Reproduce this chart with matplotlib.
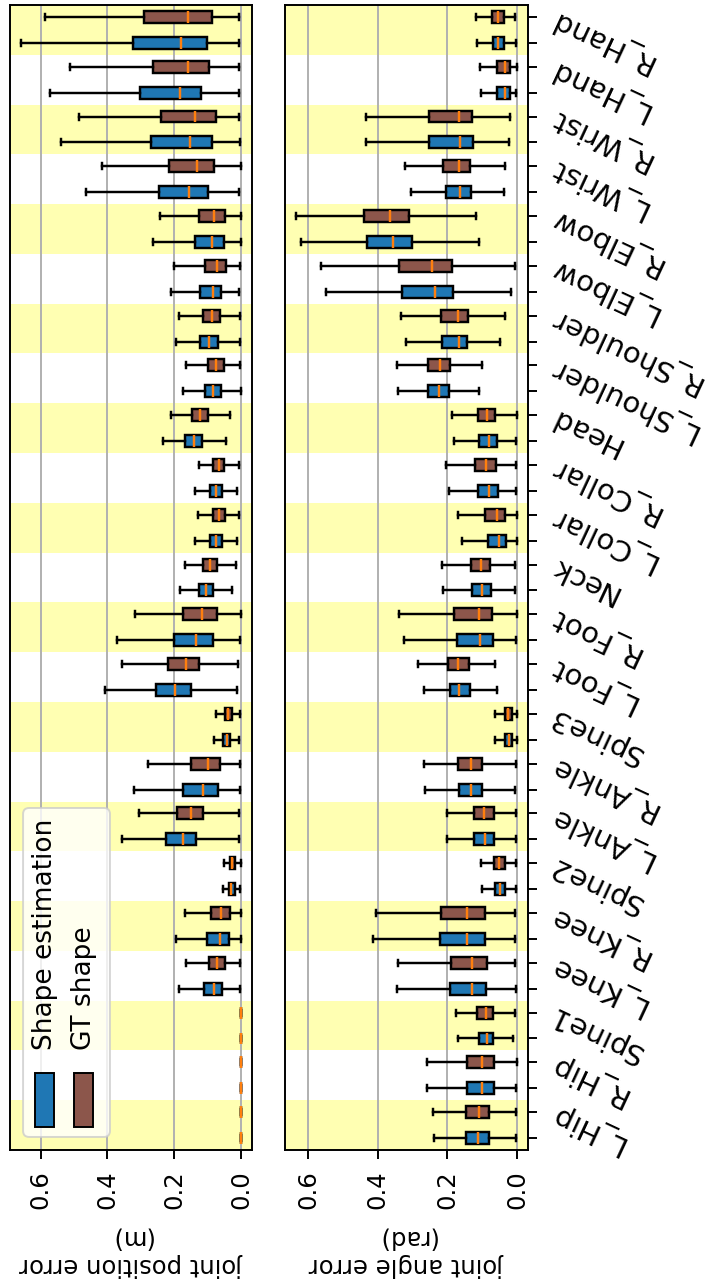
import numpy as np
import matplotlib
matplotlib.use("Agg")
import matplotlib.pyplot as plt
from matplotlib.patches import FancyBboxPatch, Rectangle

# joints, bottom to top
joints = ["L_Hip", "R_Hip", "Spine1", "L_Knee", "R_Knee", "Spine2", "L_Ankle",
          "R_Ankle", "Spine3", "L_Foot", "R_Foot", "Neck", "L_Collar", "R_Collar",
          "Head", "L_Shoulder", "R_Shoulder", "L_Elbow", "R_Elbow", "L_Wrist",
          "R_Wrist", "L_Hand", "R_Hand"]

# (whislo, q1, med, q3, whishi) per joint
pos_est = [(0, 0, 0, 0, 0), (0, 0, 0, 0, 0), (0, 0, 0, 0, 0),
           (0.002, 0.058, 0.082, 0.111, 0.185), (0.0, 0.037, 0.064, 0.102, 0.194),
           (0.002, 0.018, 0.029, 0.037, 0.054), (0.007, 0.134, 0.175, 0.224, 0.355),
           (0.002, 0.070, 0.113, 0.173, 0.322), (0.005, 0.032, 0.043, 0.054, 0.080),
           (0.012, 0.150, 0.198, 0.255, 0.408), (0.003, 0.085, 0.135, 0.201, 0.372),
           (0.026, 0.085, 0.104, 0.126, 0.182), (0.012, 0.058, 0.076, 0.094, 0.139),
           (0.013, 0.058, 0.075, 0.094, 0.138), (0.046, 0.117, 0.142, 0.167, 0.233),
           (0.0, 0.060, 0.083, 0.108, 0.173), (0.004, 0.070, 0.095, 0.123, 0.194),
           (0.005, 0.060, 0.085, 0.123, 0.210), (0.001, 0.052, 0.086, 0.139, 0.263),
           (0.007, 0.099, 0.155, 0.247, 0.463), (0.003, 0.088, 0.153, 0.269, 0.540),
           (0.005, 0.119, 0.182, 0.303, 0.572), (0.005, 0.102, 0.179, 0.325, 0.659)]

pos_gt = [(0, 0, 0, 0, 0), (0, 0, 0, 0, 0), (0, 0, 0, 0, 0),
          (0.002, 0.048, 0.071, 0.096, 0.164), (0.0, 0.034, 0.060, 0.089, 0.167),
          (0.0, 0.017, 0.026, 0.033, 0.051), (0.007, 0.114, 0.149, 0.193, 0.306),
          (0.004, 0.062, 0.098, 0.151, 0.278), (0.002, 0.028, 0.039, 0.049, 0.075),
          (0.010, 0.125, 0.166, 0.219, 0.355), (0.0, 0.073, 0.117, 0.173, 0.319),
          (0.016, 0.071, 0.093, 0.113, 0.167), (0.005, 0.049, 0.067, 0.085, 0.128),
          (0.007, 0.050, 0.067, 0.085, 0.126), (0.032, 0.098, 0.123, 0.146, 0.211),
          (0.002, 0.051, 0.074, 0.099, 0.164), (0.002, 0.063, 0.087, 0.115, 0.185),
          (0.003, 0.044, 0.072, 0.109, 0.201), (0.001, 0.047, 0.080, 0.127, 0.242),
          (0.001, 0.081, 0.133, 0.216, 0.416), (0.005, 0.074, 0.137, 0.239, 0.484),
          (0.005, 0.096, 0.158, 0.263, 0.512), (0.005, 0.088, 0.160, 0.290, 0.588)]

ang_est = [(0.004, 0.081, 0.111, 0.147, 0.239), (0.002, 0.066, 0.100, 0.144, 0.257),
           (0.010, 0.068, 0.087, 0.110, 0.168), (0.003, 0.088, 0.130, 0.192, 0.345),
           (0.005, 0.091, 0.143, 0.221, 0.413), (0.002, 0.035, 0.050, 0.064, 0.101),
           (0.003, 0.065, 0.093, 0.122, 0.201), (0.007, 0.100, 0.132, 0.167, 0.263),
           (0.0, 0.013, 0.024, 0.035, 0.062), (0.057, 0.135, 0.166, 0.193, 0.266),
           (0.003, 0.070, 0.106, 0.173, 0.324), (0.007, 0.074, 0.101, 0.130, 0.212),
           (0.0, 0.031, 0.051, 0.084, 0.159), (0.002, 0.054, 0.079, 0.113, 0.196),
           (0.002, 0.058, 0.081, 0.108, 0.180), (0.110, 0.195, 0.223, 0.256, 0.341),
           (0.048, 0.144, 0.167, 0.214, 0.319), (0.017, 0.184, 0.236, 0.331, 0.549),
           (0.109, 0.300, 0.355, 0.429, 0.620), (0.036, 0.132, 0.163, 0.204, 0.305),
           (0.023, 0.127, 0.163, 0.251, 0.432), (0.002, 0.019, 0.033, 0.056, 0.104),
           (0.002, 0.036, 0.053, 0.070, 0.114)]

ang_gt = [(0.004, 0.079, 0.109, 0.146, 0.240), (0.0, 0.067, 0.100, 0.144, 0.257),
          (0.005, 0.068, 0.090, 0.114, 0.176), (0.005, 0.085, 0.128, 0.189, 0.341),
          (0.005, 0.092, 0.143, 0.218, 0.405), (0.002, 0.035, 0.051, 0.065, 0.102),
          (0.003, 0.065, 0.094, 0.122, 0.202), (0.002, 0.100, 0.133, 0.168, 0.267),
          (0.0, 0.014, 0.025, 0.035, 0.062), (0.063, 0.139, 0.170, 0.199, 0.285),
          (0.0, 0.072, 0.109, 0.180, 0.339), (0.006, 0.076, 0.103, 0.133, 0.214),
          (0.0, 0.035, 0.057, 0.091, 0.169), (0.004, 0.061, 0.088, 0.121, 0.205),
          (0.0, 0.062, 0.086, 0.113, 0.187), (0.100, 0.191, 0.220, 0.255, 0.345),
          (0.033, 0.141, 0.168, 0.219, 0.333), (0.006, 0.186, 0.243, 0.338, 0.563),
          (0.117, 0.310, 0.364, 0.440, 0.634), (0.033, 0.135, 0.167, 0.211, 0.321),
          (0.019, 0.128, 0.166, 0.251, 0.432), (0.0, 0.020, 0.033, 0.056, 0.107),
          (0.005, 0.036, 0.053, 0.071, 0.117)]

series_names = ["Shape estimation", "GT shape"]
xtick_vals = [0.0, 0.2, 0.4, 0.6]

c_est = "#1f77b4"
c_gt = "#8c564b"
lw = 1.75


def to_stats(rows):
    return [dict(whislo=r[0], q1=r[1], med=r[2], q3=r[3], whishi=r[4], fliers=[])
            for r in rows]


W, H = 712, 1287
fig = plt.figure(figsize=(W / 100, H / 100), dpi=100)
ax_pos = fig.add_axes([10 / W, 137 / H, 242 / W, 1145 / H])
ax_ang = fig.add_axes([285 / W, 137 / H, 243 / W, 1145 / H])

n = len(joints)
idx = np.arange(n)
off = 0.26

panels = [(ax_pos, pos_est, pos_gt, "joint position error\n(m)"),
          (ax_ang, ang_est, ang_gt, "joint angle error\n(rad)")]

for ax, est, gt, label in panels:
    for i in range(0, n, 2):
        ax.axhspan(i - 0.5, i + 0.5, color="yellow", alpha=0.3, lw=0, zorder=0)
    for rows, where, col in [(est, idx - off, c_est), (gt, idx + off, c_gt)]:
        ax.bxp(to_stats(rows), positions=where, widths=0.24,
               orientation="horizontal", patch_artist=True, showfliers=False,
               manage_ticks=False,
               boxprops=dict(facecolor=col, edgecolor="black", linewidth=lw),
               medianprops=dict(color="#ff7f0e", linewidth=lw),
               whiskerprops=dict(color="black", linewidth=lw),
               capprops=dict(color="black", linewidth=lw))
    top = max(max(r[4] for r in est), max(r[4] for r in gt))
    ax.set_xlim(top * 1.05, -top * 0.05)
    ax.set_ylim(-0.5, n - 0.5)
    ax.set_xticks(xtick_vals)
    ax.set_xticklabels([f"{v:.1f}" for v in xtick_vals], rotation=90)
    ax.xaxis.grid(True, color="#b0b0b0", linewidth=1.4)
    ax.set_axisbelow(True)
    ax.tick_params(axis="x", labelsize=17.5, length=6.5, width=1.4, pad=8)
    ax.set_xlabel(label, rotation=180, fontsize=17.5, labelpad=12)
    for s in ax.spines.values():
        s.set_linewidth(1.4)

# left panel: no joint ticks
ax_pos.set_yticks([])

# right panel: tick marks at every box, joint names at the joint centres
ax_ang.yaxis.tick_right()
ax_ang.set_yticks(np.sort(np.concatenate([idx - off, idx + off])))
ax_ang.set_yticklabels([])
ax_ang.set_yticks(idx, joints, minor=True)
ax_ang.tick_params(axis="y", which="major", length=6.5, width=1.4)
ax_ang.tick_params(axis="y", which="minor", length=0, labelsize=21, pad=12)
plt.setp(ax_ang.get_yticklabels(minor=True), rotation=155, ha="right",
         va="top", rotation_mode="anchor")

# legend, drawn rotated to match the page orientation
t = ax_pos.transAxes
frame = FancyBboxPatch((0.054, 0.0114), 0.413 - 0.054, 0.2987 - 0.0114,
                       boxstyle="round,pad=0,rounding_size=0.025",
                       mutation_aspect=242 / 1145, transform=t,
                       facecolor="white", edgecolor="0.8", alpha=0.8,
                       linewidth=1.4, zorder=5)
ax_pos.add_patch(frame)
for x0, col, name, xt in [(0.103, c_est, series_names[0], 0.145),
                          (0.264, c_gt, series_names[1], 0.306)]:
    ax_pos.add_patch(Rectangle((x0, 0.020), 0.079, 0.047, transform=t,
                               facecolor=col, edgecolor="black", linewidth=1.4,
                               zorder=6))
    ax_pos.text(xt, 0.087, name, transform=t, rotation=90, ha="center",
                va="bottom", fontsize=19, zorder=6)

fig.savefig("out.png", dpi=100)
